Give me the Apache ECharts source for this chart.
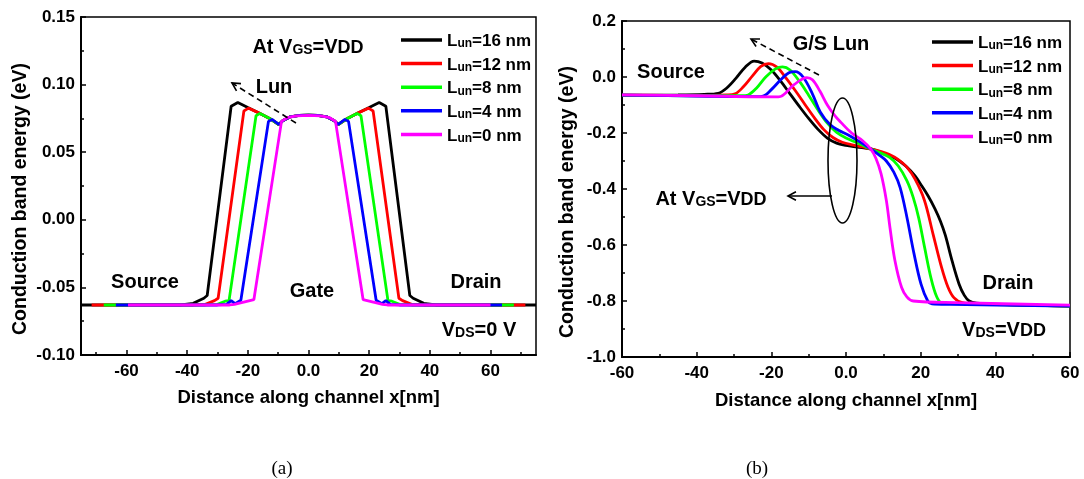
<!DOCTYPE html>
<html><head><meta charset="utf-8">
<script src="https://cdn.jsdelivr.net/npm/echarts@6/dist/echarts.min.js"></script>
<style>html,body{margin:0;padding:0;background:#fff}#c{width:1084px;height:479px}</style>
</head><body><div id="c"></div>
<script>
// ---------- data ----------
const seriesNames = ['Lun=16 nm', 'Lun=12 nm', 'Lun=8 nm', 'Lun=4 nm', 'Lun=0 nm'];
const seriesColors = ['#000000', '#ff0000', '#00ff00', '#0000ff', '#ff00ff'];

const xTicksA = [-60, -40, -20, 0, 20, 40, 60];
const xMinorA = [-70, -50, -30, -10, 10, 30, 50, 70];

// (a) VDS = 0 V
const a16 = [[-75,-0.063],[-42,-0.063],[-38,-0.0618],[-34.5,-0.058],[-33.4,-0.056],[-25.5,0.084],[-23.3,0.0868],[-20,0.083],[-16,0.0787],[-12.5,0.0745],[-9.8,0.0705],[-8.5,0.0732],[-6,0.0762],[-3,0.0772],[0,0.0774],[3,0.0772],[6,0.0762],[8.5,0.0732],[9.8,0.0705],[12.5,0.0745],[16,0.0787],[20,0.083],[23.3,0.0868],[25.5,0.084],[33.4,-0.056],[34.5,-0.058],[38,-0.0618],[42,-0.063],[75,-0.063]];
const a12 = [[-71.5,-0.063],[-38,-0.063],[-34,-0.0625],[-31,-0.0598],[-29.8,-0.058],[-21.3,0.0805],[-19.8,0.0826],[-16,0.0787],[-12.5,0.0745],[-9.8,0.0705],[-8.5,0.0732],[-6,0.0762],[-3,0.0772],[0,0.0774],[3,0.0772],[6,0.0762],[8.5,0.0732],[9.8,0.0705],[12.5,0.0745],[16,0.0787],[19.8,0.0826],[21.3,0.0805],[29.8,-0.058],[31,-0.0598],[34,-0.0625],[38,-0.063],[71.5,-0.063]];
const a8 = [[-67.5,-0.063],[-34,-0.063],[-30,-0.0625],[-27.5,-0.0602],[-26.2,-0.0598],[-17.3,0.077],[-16,0.0787],[-12.5,0.0745],[-9.8,0.0705],[-8.5,0.0732],[-6,0.0762],[-3,0.0772],[0,0.0774],[3,0.0772],[6,0.0762],[8.5,0.0732],[9.8,0.0705],[12.5,0.0745],[16,0.0787],[17.3,0.077],[26.2,-0.0598],[27.5,-0.0602],[30,-0.0625],[34,-0.063],[67.7,-0.063]];
const a4 = [[-63.5,-0.063],[-30,-0.063],[-27,-0.0625],[-25.5,-0.0598],[-24.2,-0.062],[-22.3,-0.0595],[-13.2,0.0728],[-12,0.0742],[-9.8,0.0705],[-8.5,0.0732],[-6,0.0762],[-3,0.0772],[0,0.0774],[3,0.0772],[6,0.0762],[8.5,0.0732],[9.8,0.0705],[12,0.0742],[13.2,0.0728],[22.3,-0.0595],[24.2,-0.062],[25.5,-0.0598],[27,-0.0625],[30,-0.063],[63.8,-0.063]];
const a0 = [[-59.5,-0.063],[-26,-0.063],[-24.4,-0.0625],[-18,-0.059],[-8.9,0.0728],[-7,0.0755],[-4,0.0768],[0,0.0772],[4,0.0768],[7,0.0755],[8.9,0.0728],[18,-0.059],[24.4,-0.0625],[26,-0.063],[60,-0.063]];

// (b) VDS = VDD
const b16 = [[-60,-0.065],[-45,-0.064],[-38,-0.062],[-34.2,-0.058],[-32,-0.04],[-29.5,-0.005],[-27,0.035],[-24.6,0.057],[-22.5,0.05],[-20,0.025],[-17.5,-0.015],[-15,-0.06],[-12.5,-0.105],[-10,-0.148],[-7.5,-0.187],[-5,-0.218],[-2.5,-0.236],[0,-0.244],[3,-0.25],[6.6,-0.257],[9,-0.267],[11,-0.277],[13.5,-0.293],[16,-0.318],[18.5,-0.353],[20,-0.383],[22,-0.425],[23.8,-0.47],[25.3,-0.515],[26.6,-0.565],[28.4,-0.656],[30.3,-0.74],[31.7,-0.78],[33,-0.8],[35,-0.808],[40,-0.812],[60,-0.818]];
const b12 = [[-60,-0.065],[-40,-0.066],[-32,-0.064],[-29.7,-0.06],[-27.5,-0.035],[-25,0.005],[-22.8,0.038],[-20.8,0.048],[-18.5,0.035],[-16,-0.005],[-13.5,-0.05],[-11,-0.098],[-8.5,-0.145],[-6,-0.187],[-3.5,-0.216],[-1,-0.233],[2,-0.243],[4.5,-0.25],[6.6,-0.257],[9,-0.265],[11.5,-0.276],[14,-0.295],[16.3,-0.322],[18.5,-0.365],[21,-0.44],[23.3,-0.56],[25.6,-0.68],[27.3,-0.75],[28.9,-0.788],[31.2,-0.806],[36,-0.81],[60,-0.818]];
const b8 = [[-60,-0.065],[-40,-0.067],[-28,-0.067],[-26.2,-0.064],[-24,-0.04],[-21.5,0.0],[-19,0.028],[-17,0.036],[-15,0.025],[-12.5,-0.015],[-10,-0.065],[-7.5,-0.118],[-5,-0.165],[-2.5,-0.198],[0,-0.218],[3,-0.235],[6.6,-0.257],[9,-0.27],[11.7,-0.287],[14,-0.318],[16.3,-0.37],[18,-0.43],[19.5,-0.505],[21,-0.605],[22.8,-0.72],[24.3,-0.785],[25.6,-0.806],[32,-0.81],[60,-0.818]];
const b4 = [[-60,-0.065],[-40,-0.068],[-24,-0.07],[-22.2,-0.068],[-20,-0.045],[-17.5,-0.01],[-15.3,0.015],[-13.6,0.019],[-11.5,0.0],[-9,-0.06],[-6.9,-0.125],[-4.3,-0.17],[-2,-0.19],[0.6,-0.207],[3.5,-0.23],[6.6,-0.257],[9,-0.28],[10.8,-0.3],[12.8,-0.34],[14.5,-0.395],[16.3,-0.5],[18.2,-0.63],[20.1,-0.74],[21.9,-0.8],[23,-0.81],[28,-0.812],[60,-0.818]];
const b0 = [[-60,-0.064],[-40,-0.067],[-18.1,-0.071],[-14,-0.028],[-10.5,-0.002],[-9,-0.01],[-7,-0.05],[-5,-0.1],[-3,-0.138],[-1.3,-0.163],[1.5,-0.2],[4.3,-0.226],[6.6,-0.257],[8,-0.29],[9.4,-0.346],[10.8,-0.44],[11.8,-0.54],[13.1,-0.655],[14.9,-0.752],[16.3,-0.785],[18,-0.8],[30,-0.806],[60,-0.815]];

const dataA = [a16, a12, a8, a4, a0];
const dataB = [b16, b12, b8, b4, b0];

// ---------- chart ----------
const FONT = "'Liberation Sans', Arial, sans-serif";
const chart = echarts.init(document.getElementById('c'), null, {renderer: 'canvas'});

const axisLine = {show: true, onZero: false, lineStyle: {color: '#000', width: 2}};
const tickStyle = {color: '#000', width: 1.5};
const labelStyle = {color: '#000', fontFamily: FONT, fontWeight: 'bold', fontSize: 17};
const xNameStyle = {color: '#000', fontFamily: FONT, fontWeight: 'bold', fontSize: 18.5};
const yNameStyle = {color: '#000', fontFamily: FONT, fontWeight: 'bold', fontSize: 19.5};

function fmtX(v) { return Math.abs(v) < 1e-9 ? '0.0' : String(v); }

const legendRich = {
  L: {fontFamily: FONT, fontWeight: 'bold', fontSize: 17, color: '#000', verticalAlign: 'bottom', lineHeight: 20},
  s: {fontFamily: FONT, fontWeight: 'bold', fontSize: 12, color: '#000', verticalAlign: 'bottom', lineHeight: 20},
  n: {fontFamily: FONT, fontWeight: 'bold', fontSize: 17, color: '#000', verticalAlign: 'bottom', lineHeight: 20}
};
function legendFmt(name) { return '{L|L}{s|un}{n|' + name.slice(3) + '}'; }

function mkLegend(left, top) {
  return {
    data: seriesNames, orient: 'vertical', left: left, top: top,
    icon: 'rect', itemWidth: 41, itemHeight: 3.5, itemGap: 6.6,
    selectedMode: false, padding: 0,
    formatter: legendFmt,
    textStyle: {rich: legendRich}
  };
}

const series = [];
dataA.forEach((d, i) => series.push({
  type: 'line', name: seriesNames[i], xAxisIndex: 0, yAxisIndex: 0, data: d,
  symbol: 'none', showSymbol: false, smooth: false, z: 2 + i,
  lineStyle: {color: seriesColors[i], width: 2.8}, itemStyle: {color: seriesColors[i]}
}));
dataB.forEach((d, i) => series.push({
  type: 'line', name: seriesNames[i], xAxisIndex: 2, yAxisIndex: 1, data: d,
  symbol: 'none', showSymbol: false, smooth: 0.35, z: 2 + i,
  lineStyle: {color: seriesColors[i], width: 2.8}, itemStyle: {color: seriesColors[i]}
}));

// annotation helpers
const rich = {
  b: {fontFamily: FONT, fontWeight: 'bold', fontSize: 20, color: '#000', verticalAlign: 'bottom', lineHeight: 22},
  s: {fontFamily: FONT, fontWeight: 'bold', fontSize: 14, color: '#000', verticalAlign: 'bottom', lineHeight: 22},
  m: {fontFamily: FONT, fontWeight: 'bold', fontSize: 18, color: '#000', verticalAlign: 'bottom', lineHeight: 22}
};
function txt(x, y, s, size) {
  return {type: 'text', x: x, y: y, z: 100, style: {text: s, rich: rich, align: 'center', verticalAlign: 'middle',
    fontFamily: FONT, fontWeight: 'bold', fontSize: size || 20, fill: '#000'}};
}
function arrow(x1, y1, x2, y2, dashed, lw) {
  const dx = x2 - x1, dy = y2 - y1, L = Math.hypot(dx, dy);
  const ux = -dx / L, uy = -dy / L, a = 28 * Math.PI / 180, h = 9;
  const p1 = [x2 + h * (ux * Math.cos(a) - uy * Math.sin(a)), y2 + h * (ux * Math.sin(a) + uy * Math.cos(a))];
  const p2 = [x2 + h * (ux * Math.cos(a) + uy * Math.sin(a)), y2 + h * (-ux * Math.sin(a) + uy * Math.cos(a))];
  return [
    {type: 'line', z: 100, shape: {x1: x1, y1: y1, x2: x2, y2: y2},
      style: {stroke: '#000', lineWidth: lw || 1.6, lineDash: dashed ? [6, 4] : null}},
    {type: 'polyline', z: 100, shape: {points: [p1, [x2, y2], p2]}, style: {stroke: '#000', lineWidth: lw || 1.6, fill: 'none'}}
  ];
}

const graphics = [
  txt(308, 46, '{b|At V}{s|GS}{b|=V}{m|DD}'),
  txt(274, 87, 'Lun'),
  ...arrow(296, 123, 232, 83, true),
  txt(145, 282, 'Source'),
  txt(312, 291, 'Gate'),
  txt(476, 282, 'Drain'),
  txt(479, 329, '{b|V}{s|DS}{b|=0 V}'),

  txt(671, 72, 'Source'),
  txt(831, 44, 'G/S Lun'),
  ...arrow(819, 75, 751, 39, true),
  {type: 'ellipse', z: 100, shape: {cx: 842.5, cy: 160.5, rx: 14.5, ry: 62.5}, style: {fill: 'none', stroke: '#000', lineWidth: 1.6}},
  ...arrow(832, 196, 788, 196, false),
  txt(711, 198, '{b|At V}{s|GS}{b|=V}{m|DD}'),
  txt(1008, 283, 'Drain'),
  txt(1004, 329, '{b|V}{s|DS}{b|=V}{m|DD}'),

  {type: 'text', x: 282, y: 469, z: 100, style: {text: '(a)', align: 'center', verticalAlign: 'middle', fontFamily: "'Liberation Serif', 'Times New Roman', serif", fontSize: 19, fill: '#000'}},
  {type: 'text', x: 757, y: 469, z: 100, style: {text: '(b)', align: 'center', verticalAlign: 'middle', fontFamily: "'Liberation Serif', 'Times New Roman', serif", fontSize: 19, fill: '#000'}}
];

const option = {
  animation: false,
  backgroundColor: '#fff',
  grid: [
    {left: 81, top: 17, width: 455, height: 338, show: true, borderColor: '#000', borderWidth: 1.5, backgroundColor: 'transparent'},
    {left: 622, top: 21, width: 448, height: 336, show: true, borderColor: '#000', borderWidth: 1.5, backgroundColor: 'transparent'}
  ],
  legend: [mkLegend(401, 33), mkLegend(932, 35)],
  xAxis: [
    {type: 'value', gridIndex: 0, min: -75, max: 75, position: 'bottom',
      axisLine: axisLine, splitLine: {show: false},
      axisTick: {show: true, inside: true, length: 5, lineStyle: tickStyle, customValues: xTicksA},
      axisLabel: Object.assign({margin: 8, formatter: fmtX, customValues: xTicksA}, labelStyle),
      name: 'Distance along channel x[nm]', nameLocation: 'middle', nameGap: 33, nameTextStyle: xNameStyle},
    {type: 'value', gridIndex: 0, min: -75, max: 75, position: 'bottom',
      axisLine: {show: false, onZero: false}, splitLine: {show: false},
      axisTick: {show: true, inside: true, length: 3, lineStyle: tickStyle, customValues: xMinorA},
      axisLabel: {show: false}},
    {type: 'value', gridIndex: 1, min: -60, max: 60, interval: 20, position: 'bottom',
      axisLine: axisLine, splitLine: {show: false},
      axisTick: {show: true, inside: true, length: 5, lineStyle: tickStyle},
      minorTick: {show: true, splitNumber: 2, length: 3, lineStyle: tickStyle},
      axisLabel: Object.assign({margin: 8, formatter: fmtX}, labelStyle),
      name: 'Distance along channel x[nm]', nameLocation: 'middle', nameGap: 34, nameTextStyle: xNameStyle}
  ],
  yAxis: [
    {type: 'value', gridIndex: 0, min: -0.1, max: 0.15, interval: 0.05,
      axisLine: axisLine, splitLine: {show: false},
      axisTick: {show: true, inside: true, length: 5, lineStyle: tickStyle},
      minorTick: {show: true, splitNumber: 2, length: 3, lineStyle: tickStyle},
      axisLabel: Object.assign({margin: 6, formatter: v => Math.abs(v) < 1e-9 ? '0.00' : v.toFixed(2)}, labelStyle),
      name: 'Conduction band energy (eV)', nameLocation: 'middle', nameGap: 50,
      nameTextStyle: Object.assign({padding: [0, 26, 0, 0]}, yNameStyle)},
    {type: 'value', gridIndex: 1, min: -1.0, max: 0.2, interval: 0.2,
      axisLine: axisLine, splitLine: {show: false},
      axisTick: {show: true, inside: true, length: 5, lineStyle: tickStyle},
      minorTick: {show: true, splitNumber: 2, length: 3, lineStyle: tickStyle},
      axisLabel: Object.assign({margin: 6, formatter: v => Math.abs(v) < 1e-9 ? '0.0' : v.toFixed(1)}, labelStyle),
      name: 'Conduction band energy (eV)', nameLocation: 'middle', nameGap: 44,
      nameTextStyle: Object.assign({padding: [0, 26, 0, 0]}, yNameStyle)}
  ],
  series: series,
  graphic: graphics
};
chart.setOption(option);
</script></body></html>
